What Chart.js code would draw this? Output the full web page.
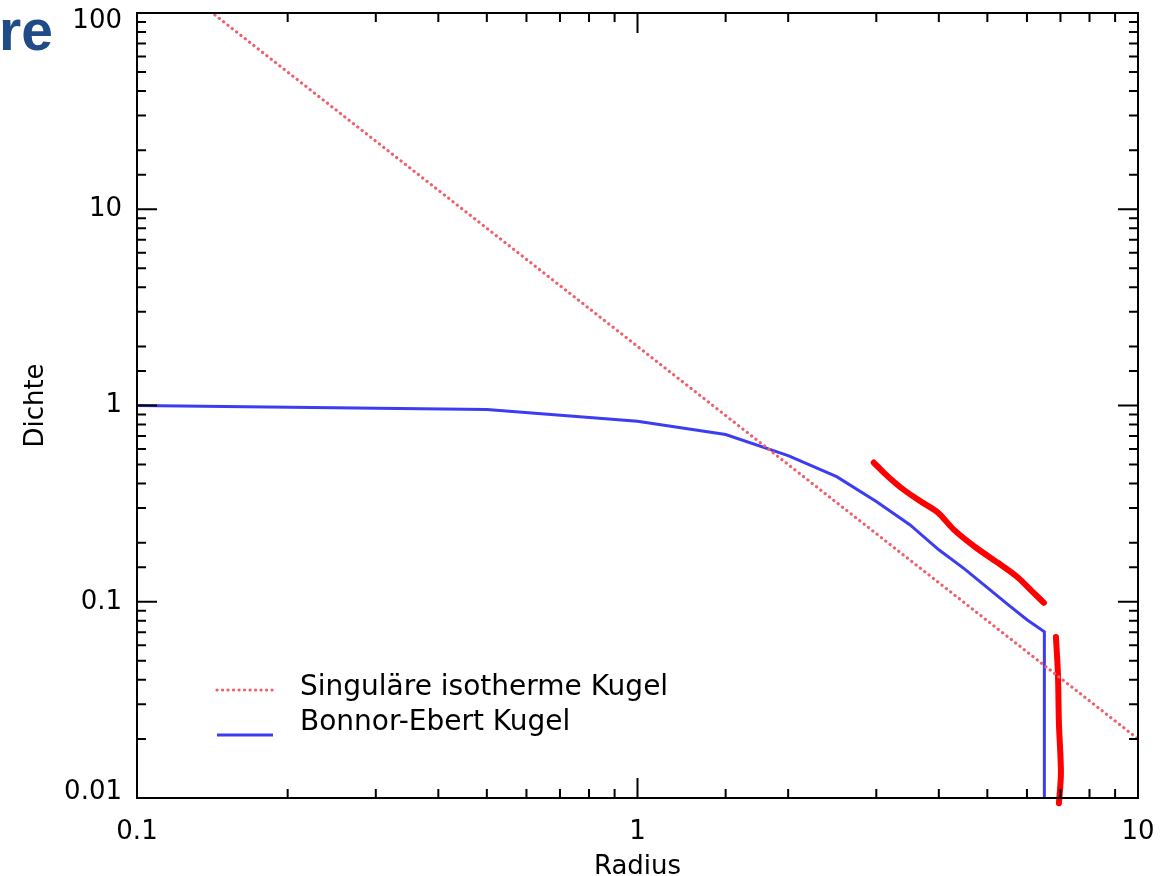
<!DOCTYPE html>
<html>
<head>
<meta charset="utf-8">
<script src="https://cdn.jsdelivr.net/npm/chart.js@4/dist/chart.umd.min.js"></script>
<style>
  html, body { margin: 0; padding: 0; background: #fff; }
  #wrap { position: relative; width: 1164px; height: 876px; overflow: hidden; }
  #frag { position: absolute; left: 53px; top: 2px; transform: translateX(-100%);
          font: bold 57px "Liberation Sans", Arial, sans-serif; color: #1f4b86; line-height: 1; }
</style>
</head>
<body>
<div id="wrap">
  <div id="frag">re</div>
  <canvas id="c" width="1164" height="876"></canvas>
</div>
<script>
// Singuläre isotherme Kugel (rho = 2 / r^2)
const sisRadius = [0.1, 10];
const sisDichte = [200, 0.02];

// Bonnor-Ebert Kugel
const beRadius = [0.1, 0.5, 1, 1.5, 2, 2.5, 3, 3.5, 4, 4.5, 5, 5.5, 6, 6.5, 6.5];
const beDichte = [1.0, 0.954, 0.832, 0.711, 0.556, 0.434, 0.324, 0.247, 0.184, 0.147, 0.118, 0.0966, 0.081, 0.0703, 0.001];

// handschriftliche Markierungen (rot)
const mark1Radius = [2.965, 3.105, 3.357, 3.681, 3.981, 4.285, 4.742, 5.248, 5.754, 6.166, 6.486];
const mark1Dichte = [0.512, 0.455, 0.382, 0.324, 0.285, 0.233, 0.189, 0.158, 0.133, 0.112, 0.0988];
const mark2Radius = [6.855, 6.918, 6.95, 7.015, 6.95];
const mark2Dichte = [0.0662, 0.0434, 0.0241, 0.0134, 0.0094];

const xTickLabels = ['0.1', '1', '10'];
const yTickLabels = ['0.01', '0.1', '1', '10', '100'];

const FONT = '"DejaVu Sans", sans-serif';

function pts(xs, ys) {
  return xs.map((v, i) => ({ x: v, y: ys[i] }));
}
function isMajor(v) {
  const l = Math.log10(v);
  return Math.abs(l - Math.round(l)) < 1e-6;
}
function tickLabel(list) {
  return function (value) {
    if (!isMajor(value)) return '';
    const s = String(Number(value.toPrecision(6)));
    return list.includes(s) ? s : '';
  };
}

// Rahmen mit Ticks nach innen, Achsentitel, Legende
const frame = {
  id: 'frame',
  afterDatasetsDraw(chart) {
    const { ctx, chartArea: a, scales: { x, y } } = chart;
    ctx.save();
    ctx.strokeStyle = '#000';
    ctx.lineWidth = 2;
    ctx.strokeRect(a.left, a.top, a.right - a.left, a.bottom - a.top);
    ctx.beginPath();
    x.ticks.forEach(t => {
      const px = x.getPixelForValue(t.value);
      const len = isMajor(t.value) ? 20 : 9;
      ctx.moveTo(px, a.bottom); ctx.lineTo(px, a.bottom - len);
      ctx.moveTo(px, a.top); ctx.lineTo(px, a.top + len);
    });
    y.ticks.forEach(t => {
      const py = y.getPixelForValue(t.value);
      const len = isMajor(t.value) ? 20 : 9;
      ctx.moveTo(a.left, py); ctx.lineTo(a.left + len, py);
      ctx.moveTo(a.right, py); ctx.lineTo(a.right - len, py);
    });
    ctx.stroke();

    // Achsentitel
    ctx.fillStyle = '#000';
    ctx.font = '26px ' + FONT;
    ctx.textAlign = 'center';
    ctx.textBaseline = 'alphabetic';
    ctx.fillText('Radius', (a.left + a.right) / 2, 874);
    ctx.save();
    ctx.translate(43, (a.top + a.bottom) / 2);
    ctx.rotate(-Math.PI / 2);
    ctx.fillText('Dichte', 0, 0);
    ctx.restore();

    // Legende
    ctx.textAlign = 'left';
    ctx.font = '28px ' + FONT;
    const rows = [{ ds: chart.data.datasets[0], y: 690, ty: 695 }, { ds: chart.data.datasets[1], y: 735, ty: 730 }];
    rows.forEach(r => {
      ctx.save();
      ctx.strokeStyle = r.ds.borderColor;
      ctx.lineWidth = r.ds.borderWidth;
      ctx.setLineDash(r.ds.borderDash || []);
      ctx.lineCap = r.ds.borderCapStyle || 'butt';
      ctx.beginPath();
      ctx.moveTo(217, r.y);
      ctx.lineTo(273, r.y);
      ctx.stroke();
      ctx.restore();
      ctx.fillText(r.ds.label, 300, r.ty);
    });
    ctx.restore();
  }
};

new Chart(document.getElementById('c'), {
  type: 'line',
  data: {
    datasets: [
      {
        label: 'Singuläre isotherme Kugel',
        data: pts(sisRadius, sisDichte),
        borderColor: '#f0606c',
        borderWidth: 3.2,
        borderDash: [0.1, 5.4],
        borderCapStyle: 'round',
        pointRadius: 0,
        tension: 0
      },
      {
        label: 'Bonnor-Ebert Kugel',
        data: pts(beRadius, beDichte),
        borderColor: '#3c3cf2',
        borderWidth: 3,
        pointRadius: 0,
        tension: 0
      },
      {
        label: 'mark1',
        data: pts(mark1Radius, mark1Dichte),
        borderColor: '#ff0000',
        borderWidth: 6,
        borderCapStyle: 'round',
        borderJoinStyle: 'round',
        pointRadius: 0,
        cubicInterpolationMode: 'monotone',
        clip: false
      },
      {
        label: 'mark2',
        data: pts(mark2Radius, mark2Dichte),
        borderColor: '#ff0000',
        borderWidth: 6,
        borderCapStyle: 'round',
        borderJoinStyle: 'round',
        pointRadius: 0,
        tension: 0.3,
        clip: false
      }
    ]
  },
  options: {
    responsive: false,
    animation: false,
    layout: { padding: { top: 13, right: 26, left: 0, bottom: 0 } },
    plugins: { legend: { display: false }, tooltip: { enabled: false } },
    scales: {
      x: {
        type: 'logarithmic',
        min: 0.1,
        max: 10,
        grid: { display: false, drawTicks: false },
        border: { display: false },
        ticks: {
          autoSkip: false,
          maxRotation: 0,
          padding: 19,
          color: '#000',
          font: { family: FONT, size: 26 },
          callback: tickLabel(xTickLabels)
        },
        afterFit(s) { s.height = 78; s.paddingLeft = 0; s.paddingRight = 0; }
      },
      y: {
        type: 'logarithmic',
        min: 0.01,
        max: 100,
        grid: { display: false, drawTicks: false },
        border: { display: false },
        ticks: {
          autoSkip: false,
          padding: 15,
          color: '#000',
          // oberstes/unterstes Label leicht nach innen versetzt (wie im Original)
          font: (c) => {
            const v = c.tick ? c.tick.value : 1;
            let lh = 1;
            if (Math.abs(v - 100) < 1e-6) lh = 0.62;
            if (Math.abs(v - 0.01) < 1e-9) lh = 0.46;
            return { family: FONT, size: 26, lineHeight: lh };
          },
          callback: function (value) {
            const s = tickLabel(yTickLabels)(value);
            if (s === '100') return ['', s];
            if (s === '0.01') return [s, ''];
            return s;
          }
        },
        afterFit(s) { s.width = 137; s.paddingTop = 0; s.paddingBottom = 0; }
      }
    }
  },
  plugins: [frame]
});
</script>
</body>
</html>
